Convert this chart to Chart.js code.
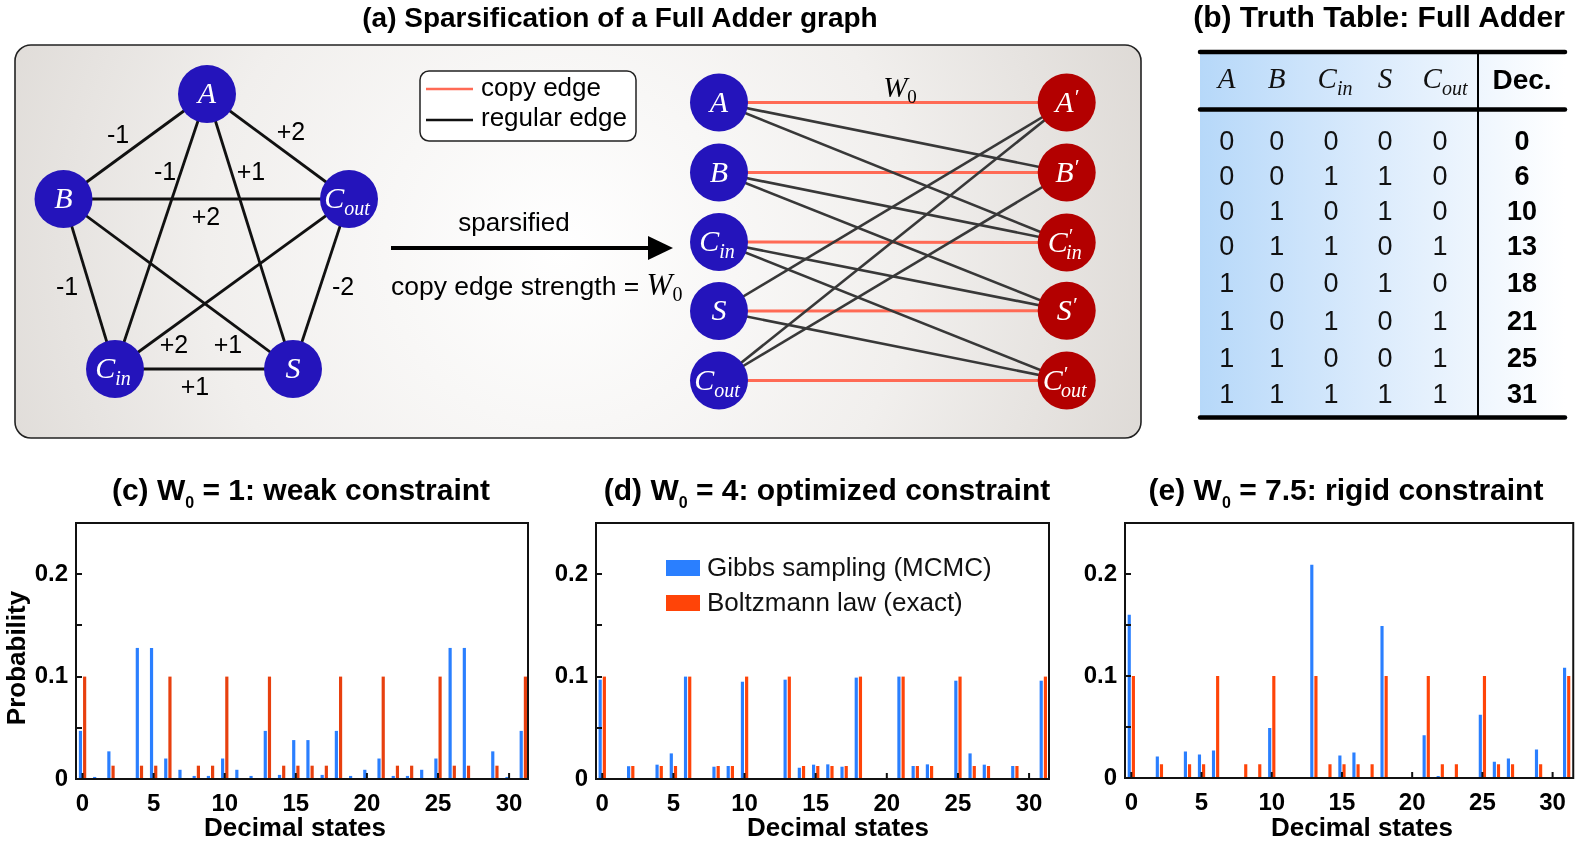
<!DOCTYPE html>
<html><head><meta charset="utf-8">
<script src="https://cdn.jsdelivr.net/npm/chart.js@4.4.1/dist/chart.umd.min.js"></script>
<style>
html,body{margin:0;padding:0;background:#fff;}
#wrap{position:relative;width:1577px;height:847px;overflow:hidden;background:#fff;}
canvas{position:absolute;}
#ov{position:absolute;left:0;top:0;}
</style></head><body><div id="wrap">
<canvas id="cC" width="545" height="347" style="left:0px;top:500px;width:545px;height:347px"></canvas>
<canvas id="cD" width="515" height="347" style="left:545px;top:500px;width:515px;height:347px"></canvas>
<canvas id="cE" width="517" height="347" style="left:1060px;top:500px;width:517px;height:347px"></canvas>
<svg id="ov" width="1577" height="847" xmlns="http://www.w3.org/2000/svg"></svg>
</div>
<script>
// ---------------- DATA ----------------
const states = [0,1,2,3,4,5,6,7,8,9,10,11,12,13,14,15,16,17,18,19,20,21,22,23,24,25,26,27,28,29,30,31];
const seriesNames = ['Gibbs sampling (MCMC)', 'Boltzmann law (exact)'];
// (c) W0 = 1
const gibbsW1 = [0.047,0.002,0.027,0,0.128,0.128,0.020,0.009,0.003,0.003,0.020,0.009,0.003,0.047,0.004,0.038,
                 0.038,0.004,0.047,0.003,0.009,0.020,0.003,0.003,0.009,0.020,0.128,0.128,0,0.027,0.002,0.047];
const boltzW1 = [0.1,0,0.013,0,0.013,0.013,0.1,0,0.013,0.013,0.1,0,0,0.1,0.013,0.013,
                 0.013,0.013,0.1,0,0,0.1,0.013,0.013,0,0.1,0.013,0.013,0,0.013,0,0.1];
// (d) W0 = 4
const gibbsW4 = [0.097,0,0.0125,0,0.014,0.025,0.100,0,0.012,0.0127,0.095,0,0,0.097,0.011,0.014,
                 0.0143,0.012,0.099,0,0,0.100,0.0127,0.0143,0,0.096,0.025,0.014,0,0.0127,0,0.096];
const boltzW4 = [0.1,0,0.0127,0,0.0127,0.0127,0.1,0,0.0127,0.0127,0.1,0,0,0.1,0.0127,0.0127,
                 0.0127,0.0127,0.1,0,0,0.1,0.0127,0.0127,0,0.1,0.0127,0.0127,0,0.0127,0,0.1];
// (e) W0 = 7.5
const gibbsW75 = [0.160,0,0.021,0,0.026,0.023,0.027,0,0,0.001,0.049,0,0,0.209,0,0.022,
                  0.025,0,0.149,0,0,0.042,0.002,0,0,0.062,0.016,0.019,0,0.028,0,0.108];
const boltzW75 = [0.1,0,0.0134,0,0.0134,0.0134,0.1,0,0.0134,0.0134,0.1,0,0,0.1,0.0134,0.0134,
                  0.0134,0.0134,0.1,0,0,0.1,0.0134,0.0134,0,0.1,0.0134,0.0134,0,0.0134,0,0.1];
const xTickValues = [0,5,10,15,20,25,30];
const xTickLabels = ['0','5','10','15','20','25','30'];
const yTickValues = [0,0.1,0.2];
const yTickLabels = ['0','0.1','0.2'];
const yMarkValues = [0.05,0.1,0.15,0.2];
// truth table
const ttHeaders = ['A','B','Cin','S','Cout'];
const ttRows = [[0,0,0,0,0],[0,0,1,1,0],[0,1,0,1,0],[0,1,1,0,1],[1,0,0,1,0],[1,0,1,0,1],[1,1,0,0,1],[1,1,1,1,1]];
const ttDec = [0,6,10,13,18,21,25,31];
// graph
const edgeWeights = ['-1','+2','-1','+1','+2','-1','-2','+2','+1','+1'];

// ---------------- CHARTS ----------------
const FONT = "'Liberation Sans', Arial, sans-serif";
const blueColor = '#2a7fff';
const framePlugin = {
  id:'frame',
  afterDatasetsDraw(chart){
    const {ctx, chartArea:a, scales:{x,y}} = chart;
    ctx.save();
    ctx.strokeStyle='#111'; ctx.lineWidth=2;
    ctx.strokeRect(a.left, a.top, a.right-a.left, a.bottom-a.top);
    ctx.beginPath();
    yMarkValues.forEach(v=>{const p=Math.round(y.getPixelForValue(v)); ctx.moveTo(a.left,p); ctx.lineTo(a.left+6,p);});
    xTickValues.forEach(v=>{const p=x.getPixelForValue(v); ctx.moveTo(p,a.bottom); ctx.lineTo(p,a.bottom-6);});
    ctx.stroke();
    ctx.restore();
  }
};
const legendPlugin = {
  id:'innerLegend',
  afterDraw(chart){
    const {ctx, chartArea:a} = chart;
    ctx.save();
    chart.data.datasets.forEach((ds,i)=>{
      const top = a.top + 37 + i*35;
      ctx.fillStyle = ds.backgroundColor;
      ctx.fillRect(a.left+70, top, 34, 16);
      ctx.fillStyle = '#111';
      ctx.font = "26px " + FONT;
      ctx.textBaseline = 'middle';
      ctx.fillText(ds.label, a.left+111, top+9);
    });
    ctx.restore();
  }
};
function makeChart(id, blue, red, redColor, xr, yW, padR, xH, withLegend){
  const plugins=[framePlugin]; if(withLegend) plugins.push(legendPlugin);
  const tickFont = {family:FONT, size:24, weight:'bold'};
  return new Chart(document.getElementById(id), {
    type:'bar',
    data:{datasets:[
      {label:seriesNames[0], data:states.map((s,i)=>({x:s,y:blue[i]})), backgroundColor:blueColor, barPercentage:0.76, categoryPercentage:0.59},
      {label:seriesNames[1], data:states.map((s,i)=>({x:s,y:red[i]})), backgroundColor:redColor, barPercentage:0.76, categoryPercentage:0.59}
    ]},
    options:{
      responsive:false, animation:false, events:[],
      layout:{padding:{left:0,right:padR,top:23,bottom:0}},
      plugins:{legend:{display:false}, tooltip:{enabled:false}, title:{display:false}},
      scales:{
        x:{type:'linear', min:xr[0], max:xr[1], offset:false,
           grid:{display:false, drawTicks:false}, border:{display:false},
           afterBuildTicks:s=>{s.ticks = xTickValues.map(v=>({value:v}));},
           ticks:{autoSkip:false, maxRotation:0, minRotation:0, padding:11, color:'#000', font:tickFont, callback:(v,i)=>xTickLabels[i]},
           afterFit:s=>{s.height = xH;}},
        y:{type:'linear', min:0, max:0.25,
           grid:{display:false, drawTicks:false}, border:{display:false},
           afterBuildTicks:s=>{s.ticks = yTickValues.map(v=>({value:v}));},
           ticks:{padding:8, color:'#000', font:tickFont, callback:(v,i)=>yTickLabels[i]},
           afterFit:s=>{s.width = yW;}}
      }
    },
    plugins
  });
}
makeChart('cC', gibbsW1, boltzW1, '#e8400e', [-0.46,31.33], 76, 17, 68, false);
makeChart('cD', gibbsW4, boltzW4, '#ff4408', [-0.44,31.40], 51, 11, 68, true);
makeChart('cE', gibbsW75, boltzW75, '#ff4408', [-0.45,31.47], 65, 1, 69, false);

// ---------------- DIAGRAMS (SVG) ----------------
const S = [];
const SANS = "Liberation Sans, Arial, sans-serif";
const SERIF = "Liberation Serif, Times New Roman, serif";
S.push(`<defs>
<radialGradient id="bgA" cx="560" cy="250" r="640" gradientUnits="userSpaceOnUse"><stop offset="0" stop-color="#ffffff"/><stop offset="0.55" stop-color="#f1efed"/><stop offset="1" stop-color="#dcd8d4"/></radialGradient>
<linearGradient id="bgB" x1="1200" y1="0" x2="1565" y2="0" gradientUnits="userSpaceOnUse"><stop offset="0" stop-color="#b6d8f9"/><stop offset="0.45" stop-color="#d9eafc"/><stop offset="1" stop-color="#ffffff"/></linearGradient>
</defs>`);
// titles
S.push(`<text x="620" y="27" text-anchor="middle" font-family="${SANS}" font-weight="bold" font-size="28" fill="#000">(a) Sparsification of a Full Adder graph</text>`);
S.push(`<text x="1379" y="27" text-anchor="middle" font-family="${SANS}" font-weight="bold" font-size="30" fill="#000">(b) Truth Table: Full Adder</text>`);
// box a
S.push(`<rect x="15" y="45" width="1126" height="393" rx="16" ry="16" fill="url(#bgA)" stroke="#222" stroke-width="1.6"/>`);

function nodeText(id, prime){
  if(id==='Cout') return prime ? `C<tspan font-size="20" dy="-9">′</tspan><tspan font-size="20" dx="-6" dy="16">out</tspan>` : `C<tspan font-size="20" dy="7">out</tspan>`;
  if(id==='Cin') return prime ? `C<tspan font-size="20" dy="-9">′</tspan><tspan font-size="20" dx="-6" dy="16">in</tspan>` : `C<tspan font-size="20" dy="7">in</tspan>`;
  return prime ? `${id}<tspan font-size="22" dy="-8">′</tspan>` : id;
}
function node(x,y,id,fill,prime){
  return `<circle cx="${x}" cy="${y}" r="29" fill="${fill}"/>`+
    `<text x="${x+ (id.length>1?-2:0)}" y="${y+9}" text-anchor="middle" font-family="${SERIF}" font-style="italic" font-size="30" fill="#fff">${nodeText(id,prime)}</text>`;
}
// pentagon graph
const pent = {A:[207,94], B:[63.5,199], Cout:[349,199], Cin:[115,369], S:[293,369]};
const pentEdges = [['A','B'],['A','Cout'],['A','Cin'],['A','S'],['B','Cout'],['B','Cin'],['Cout','S'],['Cin','Cout'],['B','S'],['Cin','S']];
const pentLabelPos = [[118,134],[291,131],[165,171],[251,171],[206,216],[67,286],[343,286],[174,344],[228,344],[195,386]];
pentEdges.forEach(([a,b])=>{S.push(`<line x1="${pent[a][0]}" y1="${pent[a][1]}" x2="${pent[b][0]}" y2="${pent[b][1]}" stroke="#111" stroke-width="2.8"/>`);});
pentLabelPos.forEach(([x,y],i)=>{S.push(`<text x="${x}" y="${y+9}" text-anchor="middle" font-family="${SANS}" font-size="25" fill="#000">${edgeWeights[i]}</text>`);});
Object.keys(pent).forEach(k=>S.push(node(pent[k][0],pent[k][1],k,'#2414bb',false)));
// legend box
S.push(`<rect x="420" y="71" width="216" height="70" rx="9" ry="9" fill="#fff" stroke="#222" stroke-width="1.5"/>`);
S.push(`<line x1="426" y1="89" x2="473" y2="89" stroke="#ff6a55" stroke-width="2.5"/>`);
S.push(`<line x1="426" y1="120" x2="473" y2="120" stroke="#111" stroke-width="2.5"/>`);
S.push(`<text x="481" y="96" font-family="${SANS}" font-size="26" fill="#000">copy edge</text>`);
S.push(`<text x="481" y="126" font-family="${SANS}" font-size="26" fill="#000">regular edge</text>`);
// arrow
S.push(`<line x1="391" y1="248" x2="652" y2="248" stroke="#000" stroke-width="4"/>`);
S.push(`<polygon points="648,236 673,248 648,260" fill="#000"/>`);
S.push(`<text x="514" y="231" text-anchor="middle" font-family="${SANS}" font-size="26" fill="#000">sparsified</text>`);
S.push(`<text x="391" y="295" font-family="${SANS}" font-size="26.5" fill="#000">copy edge strength = <tspan font-family="${SERIF}" font-style="italic" font-size="31">W</tspan><tspan font-family="${SERIF}" font-size="20" dy="6">0</tspan></text>`);
// bipartite
const leftX = 719, rightX = 1066.7;
const bipIds = ['A','B','Cin','S','Cout'];
const leftY = {A:102.5,B:172.5,Cin:242,S:311,Cout:380.5};
const rightY = {A:102.5,B:172.5,Cin:242.5,S:310.7,Cout:380.5};
const bipEdges = [['A','B'],['A','Cin'],['B','Cin'],['B','S'],['Cin','S'],['Cin','Cout'],['S','A'],['S','Cout'],['Cout','A'],['Cout','B']];
bipIds.forEach(k=>S.push(`<line x1="${leftX}" y1="${leftY[k]}" x2="${rightX}" y2="${rightY[k]}" stroke="#ff6a55" stroke-width="3"/>`));
bipEdges.forEach(([a,b])=>S.push(`<line x1="${leftX}" y1="${leftY[a]}" x2="${rightX}" y2="${rightY[b]}" stroke="#383838" stroke-width="2.6"/>`));
S.push(`<text x="900" y="97" text-anchor="middle" font-family="${SERIF}" font-size="29" fill="#000"><tspan font-style="italic">W</tspan><tspan font-size="19" dy="6">0</tspan></text>`);
bipIds.forEach(k=>{S.push(node(leftX,leftY[k],k,'#2414bb',false)); S.push(node(rightX,rightY[k],k,'#b30000',true));});

// truth table
S.push(`<rect x="1200" y="52" width="365" height="366" fill="url(#bgB)"/>`);
S.push(`<line x1="1200" y1="52" x2="1565" y2="52" stroke="#000" stroke-width="4.5" stroke-linecap="round"/>`);
S.push(`<line x1="1200" y1="109.5" x2="1565" y2="109.5" stroke="#000" stroke-width="4.5" stroke-linecap="round"/>`);
S.push(`<line x1="1200" y1="417.5" x2="1565" y2="417.5" stroke="#000" stroke-width="4.5" stroke-linecap="round"/>`);
S.push(`<line x1="1478" y1="52" x2="1478" y2="417" stroke="#000" stroke-width="2"/>`);
const colX = [1226.7,1276.7,1331,1385,1440];
const hdrX = [1226.7,1276.7,1335,1385,1445];
ttHeaders.forEach((h,i)=>{
  let inner = h;
  if(h==='Cin') inner = `C<tspan font-size="20" dy="7">in</tspan>`;
  if(h==='Cout') inner = `C<tspan font-size="20" dy="7">out</tspan>`;
  S.push(`<text x="${hdrX[i]}" y="88" text-anchor="middle" font-family="${SERIF}" font-style="italic" font-size="29" fill="#111">${inner}</text>`);
});
S.push(`<text x="1522" y="89" text-anchor="middle" font-family="${SANS}" font-weight="bold" font-size="28" fill="#000">Dec.</text>`);
const rowY = [140,175,210,245,281.7,320,356.7,393.3];
ttRows.forEach((r,ri)=>{
  r.forEach((v,ci)=>S.push(`<text x="${colX[ci]}" y="${rowY[ri]+10}" text-anchor="middle" font-family="${SANS}" font-size="27" fill="#111">${v}</text>`));
  S.push(`<text x="1522" y="${rowY[ri]+10}" text-anchor="middle" font-family="${SANS}" font-weight="bold" font-size="27" fill="#000">${ttDec[ri]}</text>`);
});

// chart titles & axis titles
function ptitle(x, w0, rest){
  return `<text x="${x}" y="500" text-anchor="middle" font-family="${SANS}" font-weight="bold" font-size="30" fill="#000">(${rest[0]}) W<tspan font-size="16" dy="8">0</tspan><tspan dy="-8"> = ${w0}: ${rest[1]}</tspan></text>`;
}
S.push(ptitle(301,'1',['c','weak constraint']));
S.push(ptitle(827,'4',['d','optimized constraint']));
S.push(ptitle(1346,'7.5',['e','rigid constraint']));
[[295],[838],[1362]].forEach(([x])=>S.push(`<text x="${x}" y="836" text-anchor="middle" font-family="${SANS}" font-weight="bold" font-size="26" fill="#000">Decimal states</text>`));
S.push(`<text x="0" y="0" transform="translate(25,658) rotate(-90)" text-anchor="middle" font-family="${SANS}" font-weight="bold" font-size="26" fill="#000">Probability</text>`);

document.getElementById('ov').innerHTML = S.join('\n');
</script>
</body></html>
